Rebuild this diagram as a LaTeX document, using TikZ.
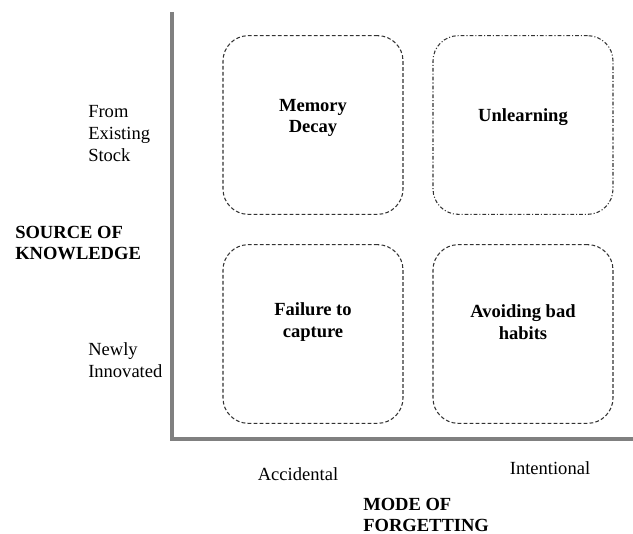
\documentclass[tikz,border=0pt]{standalone}
\usepackage{fontspec}
\setmainfont{Liberation Serif}
\begin{document}
\begin{tikzpicture}[x=0.75pt,y=-0.75pt,
  axis/.style={draw=black!50, line width=3pt},
  quad/.style={draw=black!80, line width=0.8pt, rounded corners=19pt,
    minimum width=135pt, minimum height=134pt, inner sep=0pt},
  dashedquad/.style={quad, dash pattern=on 2.8pt off 1.7pt},
  dotdashquad/.style={quad, dash pattern=on 2.8pt off 1.5pt on 0.8pt off 1.5pt},
  qtext/.style={font=\fontsize{13.9}{16.2}\selectfont\bfseries, align=center, inner sep=0pt},
  lbl/.style={font=\fontsize{13.9}{16.5}\selectfont, align=left, inner sep=0pt},
  blbl/.style={font=\fontsize{13.9}{16}\selectfont\bfseries, align=left, inner sep=0pt}]
\useasboundingbox (0,0) rectangle (633,534);
% axes
\coordinate (origin) at (172,439);
\coordinate (ytop) at (172,12);
\coordinate (xend) at (633,439);
\draw[axis] (ytop) -- (origin) -- (xend);
% quadrants
\node[dashedquad] (q1) at (313,125) {};
\node[dotdashquad] (q2) at (523,125) {};
\node[dashedquad] (q3) at (313,334) {};
\node[dashedquad] (q4) at (523,334) {};
\node[qtext] (t1) at (313,118) {Memory\\Decay};
\node[qtext] (t2) at (523,117) {Unlearning};
\node[qtext] (t3) at (313,322) {Failure to\\capture};
\node[qtext] (t4) at (523,322) {Avoiding bad\\habits};
% axis labels
\node[lbl, anchor=west] (src1) at (88,134) {From\\Existing\\Stock};
\node[lbl, anchor=west] (src2) at (88,360) {Newly\\Innovated};
\node[blbl, anchor=west] (srclab) at (15,243) {SOURCE OF\\KNOWLEDGE};
\node[lbl] (m1) at (298,474) {Accidental};
\node[lbl] (m2) at (550,468) {Intentional};
\node[blbl, anchor=west] (modelab) at (363,515) {MODE OF\\FORGETTING};
\end{tikzpicture}
\end{document}
